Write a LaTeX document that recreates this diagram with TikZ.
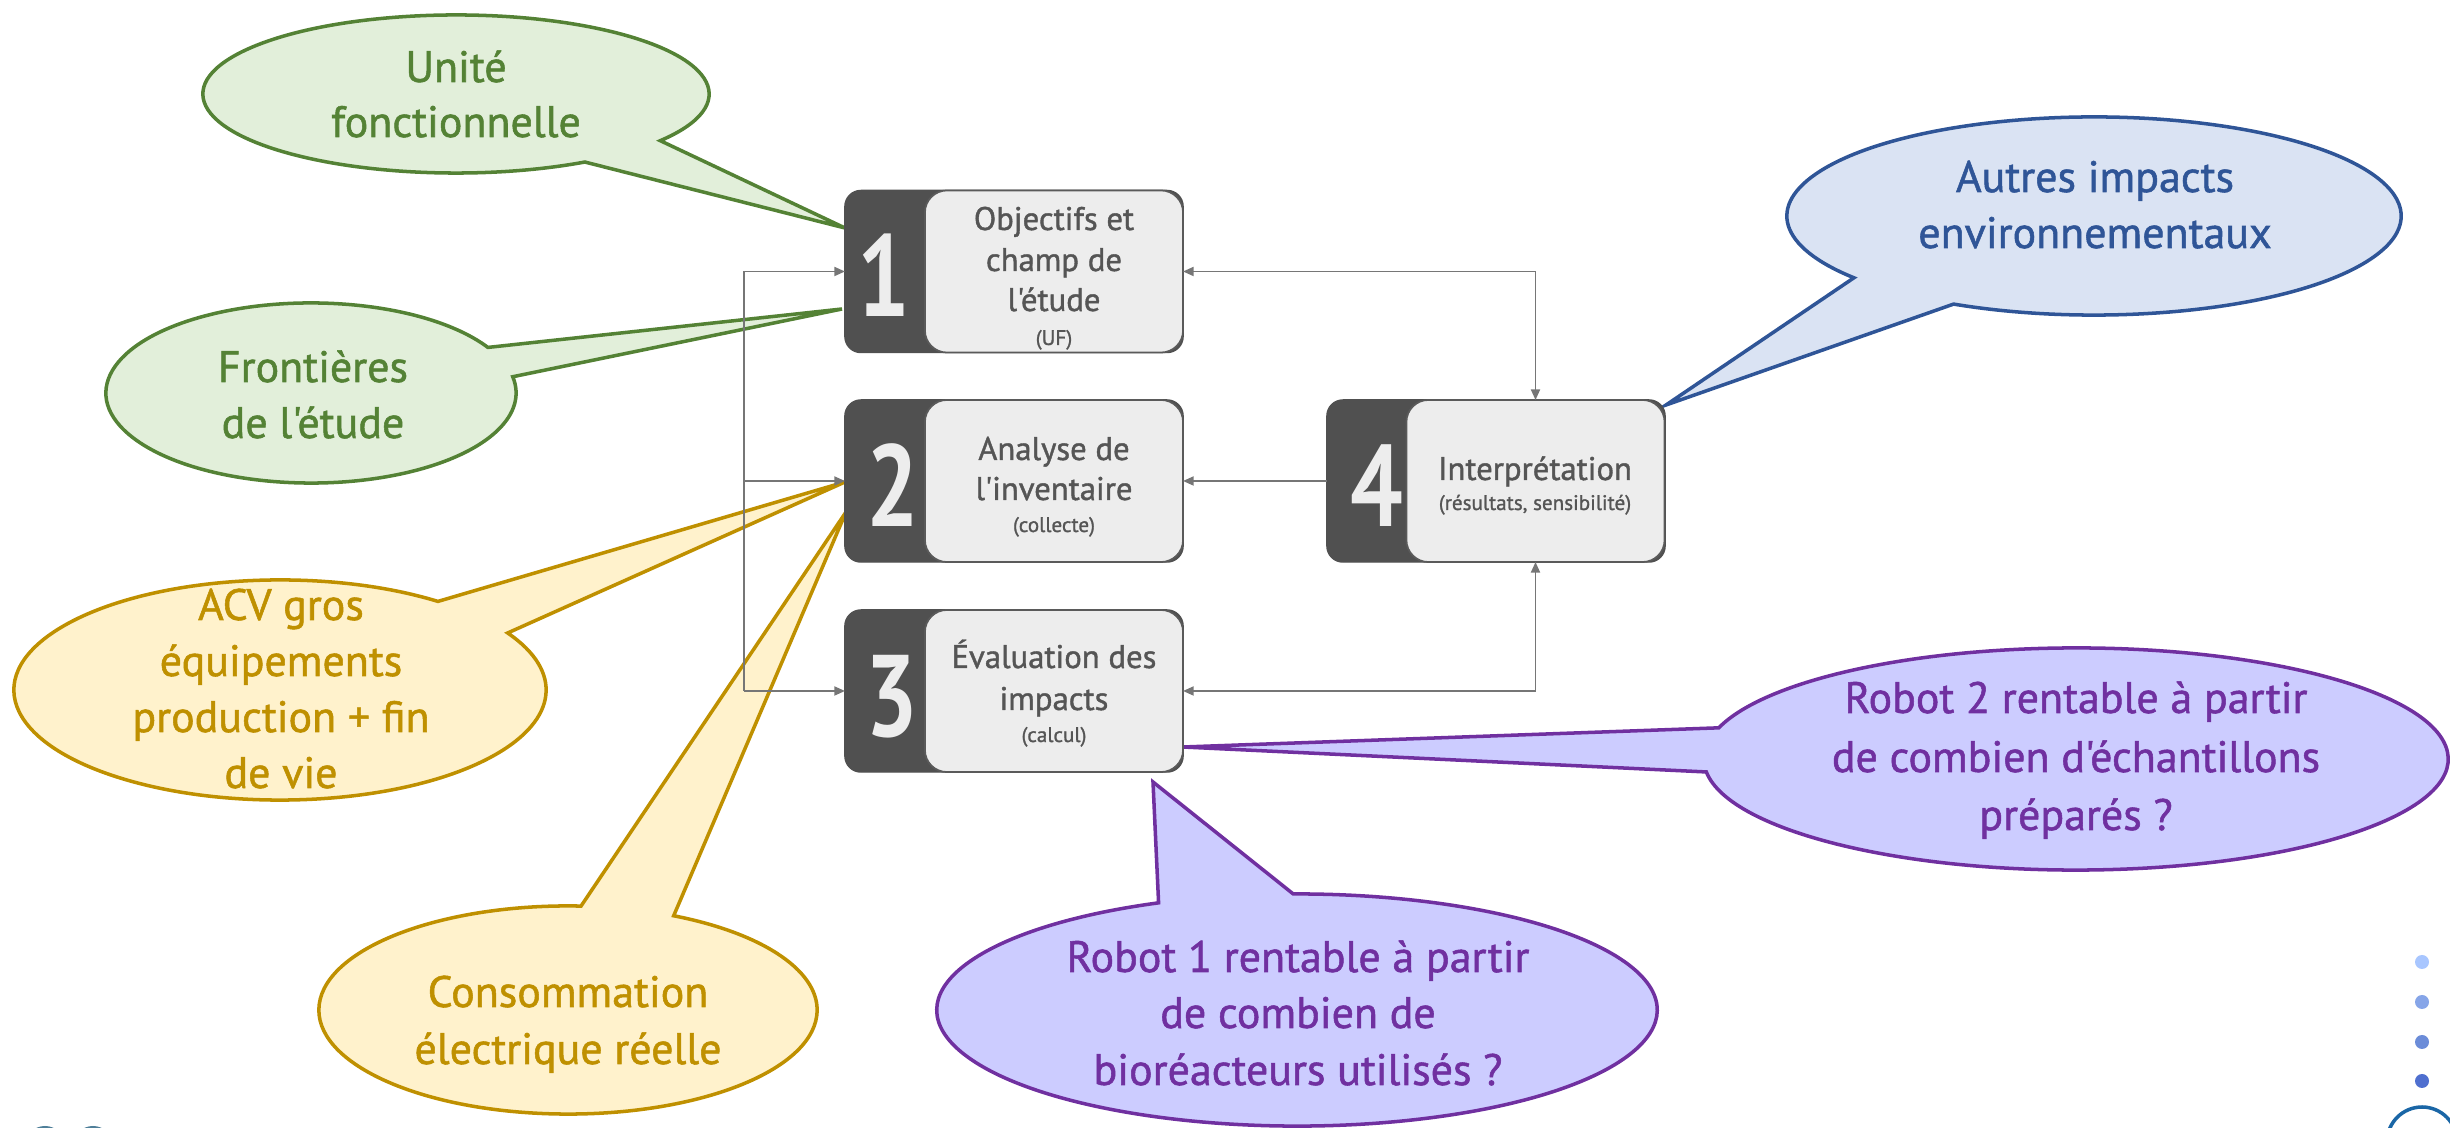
\documentclass[tikz,border=0pt]{standalone}
\usepackage{fontspec}
\setmainfont{PT Sans}[Ligatures=TeXOff,FakeBold=1.2]
\newfontfamily\digitfont{PT Sans}[FakeStretch=0.8,Ligatures=TeXOff]
\usetikzlibrary{calc,arrows.meta}
\definecolor{dgray}{HTML}{505050}
\definecolor{lgray}{HTML}{EDEDED}
\definecolor{bgray}{HTML}{5A5A5A}
\definecolor{tgray}{HTML}{555555}
\definecolor{cgray}{HTML}{767676}
\definecolor{gline}{HTML}{548235}
\definecolor{gfill}{HTML}{E2EFDA}
\definecolor{yline}{HTML}{BF9000}
\definecolor{yfill}{HTML}{FFF2CC}
\definecolor{bline}{HTML}{2F5597}
\definecolor{bfill}{HTML}{DAE3F3}
\definecolor{pline}{HTML}{7030A0}
\definecolor{pfill}{HTML}{CCCCFF}
\definecolor{dotA}{HTML}{A8C6FF}
\definecolor{dotB}{HTML}{86A5E8}
\definecolor{dotC}{HTML}{6B8CD8}
\definecolor{dotD}{HTML}{4F6FCF}
\definecolor{ringblue}{HTML}{1A66A6}
\definecolor{logoblue}{HTML}{4F7F99}
\begin{document}
\begin{tikzpicture}[x=0.01cm,y=0.01cm,
  boxdark/.style={fill=dgray,draw=dgray,rounded corners=0.16cm,minimum width=3.38cm,minimum height=1.62cm,inner sep=0pt,outer sep=0pt},
  boxlight/.style={fill=lgray,draw=bgray,line width=0.5pt,rounded corners=0.22cm,minimum width=2.58cm,minimum height=1.62cm,inner sep=0pt,outer sep=0pt},
  digit/.style={text=lgray,font=\digitfont\bfseries\fontsize{33}{33}\selectfont,inner sep=0pt,anchor=base},
  btext/.style={text=tgray,font=\fontsize{9.3}{11}\selectfont,inner sep=0pt,anchor=base},
  bsmall/.style={text=tgray,font=\fontsize{6}{7}\selectfont,inner sep=0pt,anchor=base},
  ctext/.style={font=\fontsize{12.5}{15}\selectfont,inner sep=0pt,anchor=base},
  conn/.style={draw=cgray,line width=0.4pt},
  arr/.style={conn,-{Triangle[length=3pt,width=2.6pt]}},
  arrb/.style={conn,{Triangle[length=3pt,width=2.6pt]}-{Triangle[length=3pt,width=2.6pt]}},
  callG/.style={fill=gfill,draw=gline,line width=1pt,line join=miter},
  callY/.style={fill=yfill,draw=yline,line width=1pt,line join=miter},
  callB/.style={fill=bfill,draw=bline,line width=1pt,line join=miter},
  callP/.style={fill=pfill,draw=pline,line width=1pt,line join=miter}]
\useasboundingbox (0,0) rectangle (2450,-1128);
\clip (0,0) rectangle (2450,-1128);

% ---------- callouts ----------
\coordinate (cG1) at (456,-94);  \coordinate (tG1) at (845,-228);
\path[callG] (tG1) -- ($(cG1)+(-36.2:2.53cm and 0.79cm)$) arc[start angle=-36.2,end angle=300.6,x radius=2.53cm,y radius=0.79cm] -- cycle;
\coordinate (cG2) at (311,-393); \coordinate (tG2) at (842,-309);
\path[callG] (tG2) -- ($(cG2)+(30.4:2.05cm and 0.90cm)$) arc[start angle=30.4,end angle=370.4,x radius=2.05cm,y radius=0.90cm] -- cycle;
\coordinate (cY1) at (280,-690); \coordinate (tY1) at (845,-482);
\path[callY] (tY1) -- ($(cY1)+(53.6:2.66cm and 1.10cm)$) arc[start angle=53.6,end angle=391.2,x radius=2.66cm,y radius=1.10cm] -- cycle;
\coordinate (cY2) at (568,-1010); \coordinate (tY2) at (846,-512);
\path[callY] (tY2) -- ($(cY2)+(87:2.49cm and 1.04cm)$) arc[start angle=87,end angle=424.9,x radius=2.49cm,y radius=1.04cm] -- cycle;
\coordinate (cB) at (2094,-216); \coordinate (tB) at (1666,-405);
\path[callB] (tB) -- ($(cB)+(242.8:3.07cm and 0.99cm)$) arc[start angle=242.8,end angle=578.6,x radius=3.07cm,y radius=0.99cm] -- cycle;
\coordinate (cP1) at (2076,-759); \coordinate (tP1) at (1183,-747);
\path[callP] (tP1) -- ($(cP1)+(186.7:3.72cm and 1.11cm)$) arc[start angle=186.7,end angle=523.7,x radius=3.72cm,y radius=1.11cm] -- cycle;
\coordinate (cP2) at (1297,-1010); \coordinate (tP2) at (1153,-782);
\path[callP] (tP2) -- ($(cP2)+(112.6:3.60cm and 1.16cm)$) arc[start angle=112.6,end angle=450.6,x radius=3.60cm,y radius=1.16cm] -- cycle;

% callout texts
\node[ctext,text=gline] (g1a) at (456,-82) {Unité};
\node[ctext,text=gline] (g1b) at (456,-137) {fonctionnelle};
\node[ctext,text=gline] (g2a) at (313,-382) {Frontières};
\node[ctext,text=gline] (g2b) at (313,-438) {de l'étude};
\node[ctext,text=yline] (y1a) at (281,-620) {ACV gros};
\node[ctext,text=yline] (y1b) at (281,-676) {équipements};
\node[ctext,text=yline] (y1c) at (281,-732) {production + fin};
\node[ctext,text=yline] (y1d) at (281,-788) {de vie};
\node[ctext,text=yline] (y2a) at (568,-1007) {Consommation};
\node[ctext,text=yline] (y2b) at (568,-1064) {électrique réelle};
\node[ctext,text=bline] (bla) at (2095,-192) {Autres impacts};
\node[ctext,text=bline] (blb) at (2095,-248) {environnementaux};
\node[ctext,text=pline] (p1a) at (2076,-713) {Robot 2 rentable à partir};
\node[ctext,text=pline] (p1b) at (2076,-772) {de combien d'échantillons};
\node[ctext,text=pline] (p1c) at (2076,-830) {préparés ?};
\node[ctext,text=pline] (p2a) at (1298,-972) {Robot 1 rentable à partir};
\node[ctext,text=pline] (p2b) at (1298,-1028) {de combien de};
\node[ctext,text=pline] (p2c) at (1298,-1085) {bioréacteurs utilisés ?};

% ---------- boxes ----------
\node[boxdark] (b1) at (1014,-271.5) {};
\node[boxlight] (b1l) at (1054,-271.5) {};
\node[boxdark] (b2) at (1014,-481) {};
\node[boxlight] (b2l) at (1054,-481) {};
\node[boxdark] (b3) at (1014,-691) {};
\node[boxlight] (b3l) at (1054,-691) {};
\node[boxdark] (b4) at (1496,-481) {};
\node[boxlight] (b4l) at (1535.5,-481) {};

\node[digit] (d1) at (884,-317) {1};
\node[digit] (d2) at (893,-527) {2};
\node[digit] (d3) at (892,-737) {3};
\node[digit] (d4) at (1377,-527) {4};

\node[btext] (t1a) at (1054,-230) {Objectifs et};
\node[btext] (t1b) at (1054,-271) {champ de};
\node[btext] (t1c) at (1054,-311) {l'étude};
\node[bsmall] (t1d) at (1054,-345) {(UF)};
\node[btext] (t2a) at (1054,-460) {Analyse de};
\node[btext] (t2b) at (1054,-500) {l'inventaire};
\node[bsmall] (t2c) at (1054,-532) {(collecte)};
\node[btext] (t3a) at (1054,-668) {Évaluation des};
\node[btext] (t3b) at (1054,-710) {impacts};
\node[bsmall] (t3c) at (1054,-742) {(calcul)};
\node[btext] (t4a) at (1535,-480) {Interprétation};
\node[bsmall] (t4b) at (1535,-510) {(résultats, sensibilité)};

% ---------- connectors ----------
\coordinate (busT) at (744,-271.5);
\coordinate (busM) at (744,-481);
\coordinate (busB) at (744,-691);
\draw[conn] (busT) -- (busB);
\draw[arr] (busT) -- (b1.west);
\draw[arr] (busM) -- (b2.west);
\draw[arr] (busB) -- (b3.west);
\draw[arrb] (b1l.east) -| (b4l.north);
\draw[arr] (b4.west) -- (b2l.east);
\draw[arrb] (b3l.east) -| (b4l.south);

% ---------- decorations ----------
\fill[dotA] (2422,-962) circle (7);
\fill[dotB] (2422,-1002) circle (7);
\fill[dotC] (2422,-1042) circle (7);
\fill[dotD] (2422,-1081) circle (7);
\draw[ringblue,line width=1pt] (2422,-1142) circle (35);
\fill[logoblue] (45,-1146) circle (20);
\fill[logoblue] (93,-1146) circle (20);
\end{tikzpicture}
\end{document}
